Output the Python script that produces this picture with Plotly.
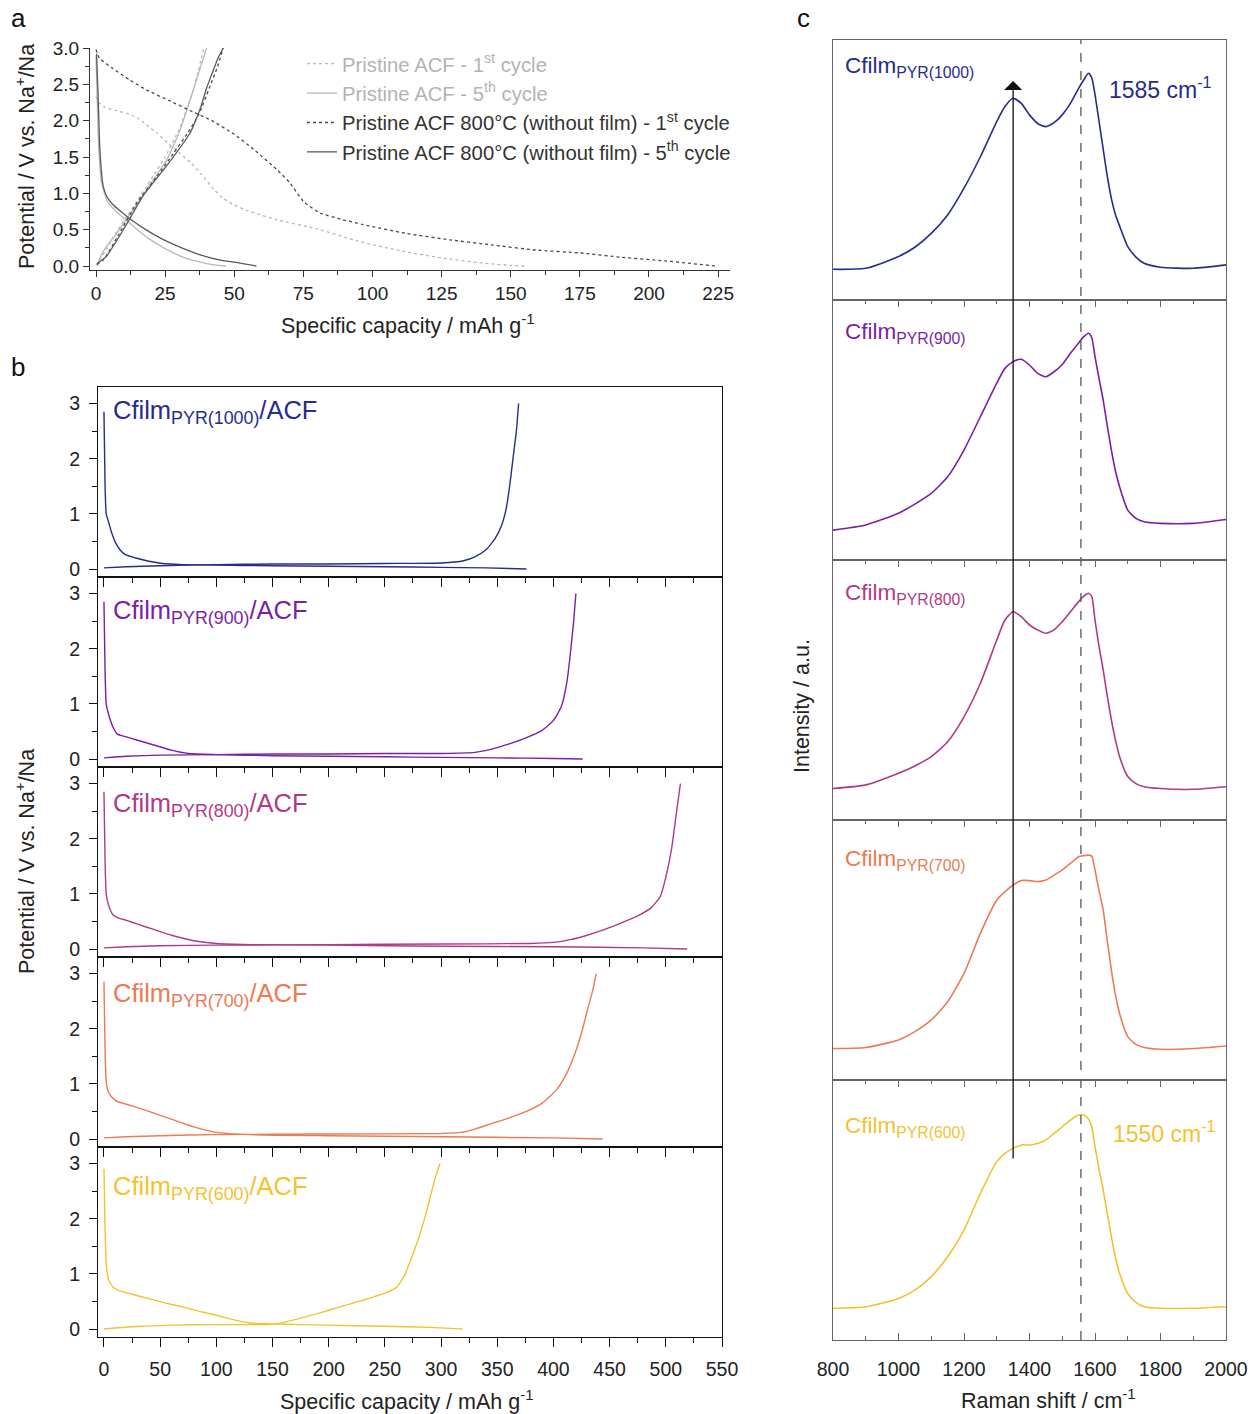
import plotly.graph_objects as go

# ---------------- DATA ----------------
# Panel a: pristine ACF references (capacity mAh/g, potential V)
acf1_dis_cap = [0, 1, 3, 7, 11, 15, 18, 22, 26, 30, 34, 38, 42, 46, 50, 55, 65, 80, 95, 110, 125, 140, 150, 155]
acf1_dis_v = [2.33, 2.25, 2.19, 2.14, 2.10, 2.04, 1.95, 1.83, 1.69, 1.56, 1.43, 1.27, 1.08, 0.93, 0.84, 0.76, 0.64, 0.51, 0.34, 0.21, 0.11, 0.04, 0.01, 0.0]
acf1_chg_cap = [0, 2, 6, 10, 15, 20, 25, 30, 35, 39]
acf1_chg_v = [0.02, 0.12, 0.38, 0.62, 0.90, 1.20, 1.50, 1.88, 2.40, 3.0]

acf5_dis_cap = [0, 0.5, 1, 2, 4, 7, 10, 14, 19, 25, 31, 37, 42, 47]
acf5_dis_v = [2.9, 2.2, 1.6, 1.15, 0.9, 0.76, 0.66, 0.53, 0.38, 0.24, 0.13, 0.06, 0.02, 0.0]
acf5_chg_cap = [0.5, 1.4, 4, 7.5, 12, 15.9, 20, 25.6, 30.4, 35, 40]
acf5_chg_v = [0.0, 0.11, 0.28, 0.45, 0.70, 0.91, 1.15, 1.46, 1.87, 2.40, 3.0]

acf800_1_dis_cap = [0, 1.25, 6, 12.2, 18.4, 26.3, 34, 41.9, 49.7, 57.5, 65.3, 70, 75, 81, 89, 96.6, 112, 128, 143, 159, 175, 190, 206, 224]
acf800_1_dis_v = [2.98, 2.86, 2.72, 2.56, 2.42, 2.28, 2.14, 2.00, 1.82, 1.59, 1.33, 1.15, 0.89, 0.73, 0.64, 0.57, 0.45, 0.36, 0.29, 0.22, 0.18, 0.12, 0.07, 0.0]
acf800_1_chg_cap = [0.3, 3, 8, 15, 22, 28, 33, 37, 41, 44, 46]
acf800_1_chg_v = [0.02, 0.10, 0.42, 0.88, 1.23, 1.55, 1.82, 2.07, 2.45, 2.75, 3.0]

acf800_5_dis_cap = [0.2, 0.8, 1.4, 2.6, 4, 6, 9, 13, 18, 24, 31, 38, 45, 52, 58]
acf800_5_dis_v = [2.92, 2.30, 1.60, 1.10, 0.95, 0.85, 0.75, 0.63, 0.50, 0.37, 0.25, 0.15, 0.08, 0.04, 0.0]
acf800_5_chg_cap = [0.7, 3.9, 9.9, 17.1, 25.6, 34, 36, 38, 40, 42, 44, 46]
acf800_5_chg_v = [0.04, 0.14, 0.50, 0.97, 1.38, 1.83, 2.00, 2.20, 2.45, 2.65, 2.85, 3.0]

# Panel b: Cfilm/ACF electrodes
b_labels = ["1000", "900", "800", "700", "600"]

dis_1000_cap = [0, 1, 2, 4, 7, 11, 15, 19, 30, 40, 52, 70, 100, 150, 200, 250, 300, 340, 376]
dis_1000_v = [2.85, 1.5, 1.0, 0.86, 0.65, 0.45, 0.33, 0.26, 0.19, 0.14, 0.10, 0.08, 0.07, 0.06, 0.05, 0.04, 0.03, 0.02, 0.0]
chg_1000_cap = [0, 20, 50, 100, 150, 200, 250, 300, 320, 330, 340, 348, 354, 358, 361, 364, 367, 369]
chg_1000_v = [0.02, 0.04, 0.06, 0.08, 0.09, 0.09, 0.10, 0.11, 0.15, 0.22, 0.35, 0.55, 0.80, 1.1, 1.5, 2.0, 2.5, 3.0]

dis_900_cap = [0, 1, 2, 4, 8, 12, 20, 30, 45, 60, 75, 100, 150, 200, 250, 300, 350, 400, 426]
dis_900_v = [2.85, 1.6, 1.0, 0.82, 0.58, 0.45, 0.40, 0.34, 0.25, 0.16, 0.10, 0.08, 0.06, 0.05, 0.04, 0.03, 0.02, 0.01, 0.0]
chg_900_cap = [0, 20, 50, 100, 150, 200, 250, 300, 330, 345, 360, 375, 390, 400, 407, 412, 415, 418, 420]
chg_900_v = [0.02, 0.05, 0.07, 0.08, 0.09, 0.09, 0.10, 0.10, 0.12, 0.18, 0.27, 0.38, 0.52, 0.70, 0.95, 1.4, 1.9, 2.5, 3.0]

dis_800_cap = [0, 1, 2, 4, 8, 12, 20, 30, 45, 60, 80, 100, 130, 200, 300, 400, 480, 519]
dis_800_v = [2.85, 1.6, 1.0, 0.80, 0.62, 0.57, 0.52, 0.45, 0.35, 0.25, 0.15, 0.10, 0.08, 0.07, 0.05, 0.04, 0.02, 0.0]
chg_800_cap = [0, 20, 50, 100, 200, 300, 380, 400, 415, 430, 445, 460, 475, 487, 495, 500, 505, 509, 513]
chg_800_v = [0.02, 0.04, 0.06, 0.07, 0.08, 0.09, 0.10, 0.12, 0.17, 0.25, 0.35, 0.47, 0.60, 0.75, 0.95, 1.3, 1.8, 2.4, 3.0]

dis_700_cap = [0, 1, 2, 4, 8, 12, 25, 40, 60, 80, 100, 130, 200, 300, 400, 444]
dis_700_v = [2.85, 1.6, 1.05, 0.85, 0.74, 0.68, 0.60, 0.50, 0.36, 0.22, 0.12, 0.08, 0.06, 0.04, 0.02, 0.0]
chg_700_cap = [0, 20, 50, 100, 200, 300, 318, 330, 345, 360, 376, 390, 403, 412, 420, 426, 431, 435, 438]
chg_700_v = [0.02, 0.04, 0.06, 0.08, 0.09, 0.10, 0.12, 0.18, 0.28, 0.38, 0.50, 0.65, 0.90, 1.2, 1.6, 2.0, 2.4, 2.7, 3.0]

dis_600_cap = [0, 1, 2, 4, 8, 13, 25, 40, 55, 70, 85, 100, 115, 130, 150, 200, 250, 290, 319]
dis_600_v = [2.9, 1.8, 1.2, 0.9, 0.76, 0.70, 0.63, 0.55, 0.47, 0.40, 0.32, 0.25, 0.17, 0.11, 0.09, 0.07, 0.05, 0.03, 0.0]
chg_600_cap = [0, 25, 60, 100, 140, 155, 170, 190, 210, 230, 250, 260, 267, 273, 280, 286, 291, 295, 299]
chg_600_v = [0.0, 0.04, 0.07, 0.08, 0.08, 0.10, 0.17, 0.28, 0.40, 0.52, 0.65, 0.75, 0.95, 1.25, 1.65, 2.05, 2.45, 2.75, 3.0]

# Panel c: Raman spectra (normalised intensity, a.u.)
raman_shift = [800, 900, 1000, 1050, 1100, 1150, 1200, 1250, 1300, 1325, 1350, 1375, 1400, 1425, 1450, 1475,
               1500, 1525, 1550, 1565, 1580, 1590, 1600, 1612, 1625, 1637, 1650, 1662, 1675, 1700, 1725, 1750,
               1800, 1900, 2000]
raman_1000 = [0.118, 0.122, 0.167, 0.203, 0.256, 0.327, 0.430, 0.551, 0.686, 0.744, 0.776, 0.756, 0.712, 0.679, 0.667, 0.682,
              0.712, 0.756, 0.814, 0.845, 0.872, 0.855, 0.790, 0.690, 0.580, 0.480, 0.390, 0.330, 0.285, 0.205, 0.165, 0.141,
              0.126, 0.122, 0.135]
raman_900 = [0.115, 0.135, 0.180, 0.215, 0.256, 0.320, 0.423, 0.551, 0.680, 0.737, 0.763, 0.772, 0.750, 0.718, 0.705, 0.724,
             0.752, 0.795, 0.835, 0.858, 0.872, 0.855, 0.782, 0.700, 0.615, 0.520, 0.423, 0.345, 0.282, 0.192, 0.160, 0.147,
             0.141, 0.141, 0.156]
raman_800 = [0.121, 0.135, 0.180, 0.208, 0.244, 0.301, 0.397, 0.526, 0.692, 0.769, 0.801, 0.782, 0.750, 0.731, 0.718, 0.731,
             0.763, 0.801, 0.840, 0.860, 0.872, 0.860, 0.769, 0.670, 0.577, 0.480, 0.385, 0.310, 0.244, 0.167, 0.140, 0.128,
             0.121, 0.118, 0.128]
raman_700 = [0.121, 0.125, 0.154, 0.186, 0.231, 0.301, 0.410, 0.564, 0.692, 0.724, 0.750, 0.767, 0.767, 0.763, 0.769, 0.788,
             0.808, 0.833, 0.859, 0.863, 0.865, 0.861, 0.808, 0.730, 0.654, 0.540, 0.423, 0.330, 0.256, 0.167, 0.137, 0.125,
             0.118, 0.121, 0.131]
raman_600 = [0.122, 0.128, 0.160, 0.192, 0.244, 0.320, 0.423, 0.564, 0.686, 0.718, 0.737, 0.750, 0.750, 0.756, 0.769, 0.795,
             0.820, 0.846, 0.865, 0.865, 0.850, 0.820, 0.744, 0.660, 0.577, 0.490, 0.397, 0.320, 0.256, 0.179, 0.145, 0.128,
             0.122, 0.122, 0.128]

d_band_pos = 1350
g_band_ref = 1557

# ---------------- STYLE / LAYOUT ----------------
W, H = 1252, 1414
FONT = "Liberation Sans, Arial, sans-serif"
LIGHT = "#b8b8b8"
DARK = "#4a4a4a"
colors = ["#262c8c", "#7a1fa6", "#b03a85", "#ec7a52", "#f3c230"]


def fx(px):
    return px / W


def fy(py):
    return 1 - py / H


fig = go.Figure()


def join(a, b):
    return a + [None] + b


# ---- panel a traces
legend_items = [
    (join(acf1_dis_cap, acf1_chg_cap), join(acf1_dis_v, acf1_chg_v), LIGHT, "dot",
     '<span style="color:#b3b3b3">Pristine ACF - 1<sup>st</sup> cycle</span>'),
    (join(acf5_dis_cap, acf5_chg_cap), join(acf5_dis_v, acf5_chg_v), LIGHT, "solid",
     '<span style="color:#b3b3b3">Pristine ACF - 5<sup>th</sup> cycle</span>'),
    (join(acf800_1_dis_cap, acf800_1_chg_cap), join(acf800_1_dis_v, acf800_1_chg_v), DARK, "dot",
     '<span style="color:#333333">Pristine ACF 800°C (without film) - 1<sup>st</sup> cycle</span>'),
    (join(acf800_5_dis_cap, acf800_5_chg_cap), join(acf800_5_dis_v, acf800_5_chg_v), "#5a5a5a", "solid",
     '<span style="color:#333333">Pristine ACF 800°C (without film) - 5<sup>th</sup> cycle</span>'),
]
for k, (xs, ys, c, d, nm) in enumerate(legend_items):
    fig.add_trace(go.Scatter(x=xs, y=ys, mode="lines", line=dict(color=c, width=1.3, dash=d, shape="spline", smoothing=0.5),
                             name=nm, legendgroup=f"g{k}", xaxis="x", yaxis="y"))

# ---- panel b traces
b_data = [
    (dis_1000_cap, dis_1000_v, chg_1000_cap, chg_1000_v),
    (dis_900_cap, dis_900_v, chg_900_cap, chg_900_v),
    (dis_800_cap, dis_800_v, chg_800_cap, chg_800_v),
    (dis_700_cap, dis_700_v, chg_700_cap, chg_700_v),
    (dis_600_cap, dis_600_v, chg_600_cap, chg_600_v),
]
for i, (dc, dv, cc, cv) in enumerate(b_data):
    n = 2 + i
    fig.add_trace(go.Scatter(x=join(dc, cc), y=join(dv, cv), mode="lines",
                             line=dict(color=colors[i], width=1.4, shape="spline", smoothing=0.5), showlegend=False,
                             xaxis=f"x{n}", yaxis=f"y{n}"))

# ---- panel c traces
spectra = [raman_1000, raman_900, raman_800, raman_700, raman_600]
for j, s in enumerate(spectra):
    n = 7 + j
    fig.add_trace(go.Scatter(x=raman_shift, y=s, mode="lines",
                             line=dict(color=colors[j], width=1.6, shape="spline", smoothing=0.6),
                             showlegend=False, xaxis=f"x{n}", yaxis=f"y{n}"))

layout = dict(
    width=W, height=H, margin=dict(l=0, r=0, t=0, b=0, autoexpand=False),
    paper_bgcolor="white", plot_bgcolor="white",
    font=dict(family=FONT, size=18, color="#222"),
    showlegend=True,
    legend=dict(x=fx(302), y=fy(44), xanchor="left", yanchor="top", bgcolor="rgba(0,0,0,0)",
                font=dict(size=20.3), tracegroupgap=1.5, traceorder="normal"),
)

axis_col = "#333"
layout["xaxis"] = dict(domain=[fx(90), fx(730)], range=[-2.17, 229.3], anchor="y",
                       showline=True, linecolor=axis_col, linewidth=1.3, ticks="outside", ticklen=6, tickwidth=1.2,
                       tickcolor=axis_col, tickvals=[0, 25, 50, 75, 100, 125, 150, 175, 200, 225],
                       minor=dict(ticks="outside", ticklen=4, dtick=12.5, tick0=0, tickcolor=axis_col),
                       showgrid=False, zeroline=False, tickfont=dict(size=19))
layout["yaxis"] = dict(domain=[fy(270), fy(48)], range=[-0.055, 3.0], anchor="x",
                       showline=True, linecolor=axis_col, linewidth=1.3, ticks="outside", ticklen=6, tickwidth=1.2,
                       tickcolor=axis_col, tickvals=[0, 0.5, 1, 1.5, 2, 2.5, 3], tickformat=".1f",
                       minor=dict(ticks="outside", ticklen=4, dtick=0.25, tick0=0, tickcolor=axis_col),
                       showgrid=False, zeroline=False, tickfont=dict(size=19))

for i in range(5):
    n = 2 + i
    top = 387 + 190 * i
    bot = top + 190
    last = (i == 4)
    layout[f"xaxis{n}"] = dict(domain=[fx(98), fx(722)], range=[-5.3, 550], anchor=f"y{n}",
                               showline=True, mirror=True, linecolor="#111", linewidth=1.2,
                               ticks="outside", ticklen=9, tickwidth=1.3, tickcolor="#111",
                               tickvals=list(range(0, 551, 50)), showticklabels=last, ticklabelstandoff=5,
                               minor=dict(ticks="outside", ticklen=5, dtick=25, tick0=0, tickcolor="#111"),
                               showgrid=False, zeroline=False, tickfont=dict(size=19.5))
    layout[f"yaxis{n}"] = dict(domain=[fy(bot), fy(top)], range=[-0.145, 3.3], anchor=f"x{n}",
                               showline=True, mirror=True, linecolor="#111", linewidth=1.2,
                               ticks="outside", ticklen=8, tickwidth=1.3, tickcolor="#111",
                               tickvals=[0, 1, 2, 3], ticklabelstandoff=5,
                               minor=dict(ticks="outside", ticklen=5, dtick=0.5, tick0=0, tickcolor="#111"),
                               showgrid=False, zeroline=False, tickfont=dict(size=19.5))

for j in range(5):
    n = 7 + j
    top = 40 + 260 * j
    bot = top + 260
    xa = dict(domain=[fx(833), fx(1226)], range=[800, 2000], anchor=f"y{n}",
              showline=True, linecolor="#666", linewidth=1.2,
              showgrid=False, zeroline=False, tickfont=dict(size=19.5),
              tickvals=list(range(800, 2001, 200)))
    if j == 0:
        xa.update(mirror=True, ticks="", showticklabels=False)
    elif j < 4:
        xa.update(side="top", mirror=True, ticks="inside", ticklen=7, tickwidth=1.2, tickcolor="#666",
                  showticklabels=False,
                  minor=dict(ticks="inside", ticklen=4, dtick=100, tick0=800, tickcolor="#666"))
    else:
        xa.update(side="bottom", mirror="ticks", ticks="inside", ticklen=7, tickwidth=1.2, tickcolor="#666",
                  showticklabels=True, ticklabelstandoff=11,
                  minor=dict(ticks="inside", ticklen=4, dtick=100, tick0=800, tickcolor="#666"))
    layout[f"xaxis{n}"] = xa
    layout[f"yaxis{n}"] = dict(domain=[fy(bot), fy(top)], range=[0, 1], anchor=f"x{n}",
                               showline=True, mirror=True, linecolor="#666", linewidth=1.2,
                               ticks="", showticklabels=False, showgrid=False, zeroline=False)

fig.update_layout(**layout)

# ---- reference lines
fig.add_shape(type="line", xref="x11", yref="paper", x0=g_band_ref, x1=g_band_ref, y0=fy(1340), y1=fy(40),
              line=dict(color="#555", width=1.3, dash="dash"))

ann = []
# D-band arrow
ann.append(dict(x=d_band_pos, y=fy(81), xref="x7", yref="paper", ax=0, ay=1160 - 81,
                axref="pixel", ayref="pixel", showarrow=True, arrowhead=1, arrowsize=2.3, arrowwidth=1.3,
                arrowcolor="#111", text=""))


def txt(text, px, py, size, color="#222", angle=0, xanchor="center"):
    return dict(text=text, x=fx(px), y=fy(py), xref="paper", yref="paper", xanchor=xanchor, yanchor="middle",
                textangle=angle, showarrow=False, font=dict(size=size, color=color))


# panel letters
for t, px, py in [("a", 18, 18), ("b", 18, 367), ("c", 803, 18)]:
    ann.append(txt(t, px, py, 26, "#111"))

# axis titles
ann.append(txt("Potential / V vs. Na<sup>+</sup>/Na", 25, 157, 21.5, angle=-90))
ann.append(txt("Specific capacity / mAh g<sup>-1</sup>", 408, 324, 21.5))
ann.append(txt("Potential / V vs. Na<sup>+</sup>/Na", 25, 862, 21.5, angle=-90))
ann.append(txt("Specific capacity / mAh g<sup>-1</sup>", 407, 1400, 21.5))
ann.append(txt("Intensity / a.u.", 802, 706, 21.5, angle=-90))
ann.append(txt("Raman shift / cm<sup>-1</sup>", 1048, 1399, 21.5))

# panel b labels
b_lab_y = [412, 612, 805, 995, 1188]
for i, lab in enumerate(b_labels):
    ann.append(txt(f"Cfilm<sub>PYR({lab})</sub>/ACF", 111, b_lab_y[i], 25.5, colors[i], xanchor="left"))

# panel c labels
c_lab_y = [67, 333, 594, 860, 1127]
for j, lab in enumerate(b_labels):
    ann.append(txt(f"Cfilm<sub>PYR({lab})</sub>", 843, c_lab_y[j], 22.5, colors[j], xanchor="left"))

ann.append(txt("1585 cm<sup>-1</sup>", 1107, 88, 23, colors[0], xanchor="left"))
ann.append(txt("1550 cm<sup>-1</sup>", 1111, 1132, 23, colors[4], xanchor="left"))

fig.update_layout(annotations=ann)

fig.write_html("out.html")
